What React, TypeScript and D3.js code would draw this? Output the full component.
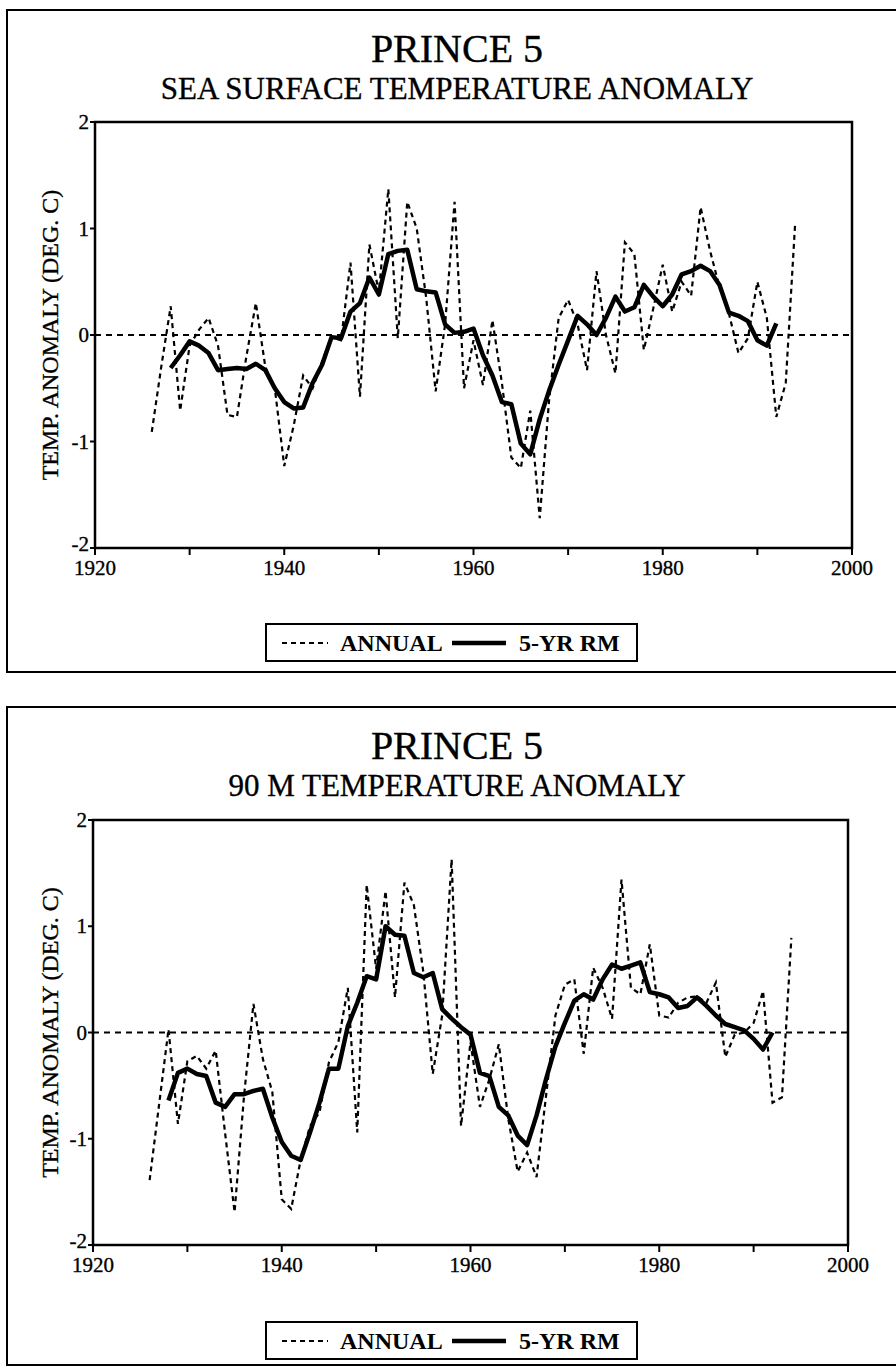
import React from "react";
import * as d3 from "d3";

// ---------- data ----------
const ANNUAL_YEARS: number[] = d3.range(1926, 1995);
const RM_YEARS: number[] = d3.range(1928, 1993);

const SST_ANNUAL = [
  -0.91, -0.3, 0.27, -0.71, -0.1, 0.05, 0.16, -0.1, -0.75, -0.77,
  -0.2, 0.3, -0.3, -0.5, -1.23, -0.85, -0.38, -0.5, -0.25, -0.02,
  -0.05, 0.68, -0.58, 0.85, 0.4, 1.37, -0.03, 1.25, 1.0, 0.35,
  -0.53, 0.1, 1.25, -0.5, -0.05, -0.47, 0.14, -0.45, -1.15, -1.25,
  -0.71, -1.72, -0.6, 0.16, 0.33, 0.1, -0.33, 0.6, 0.0, -0.36,
  0.87, 0.76, -0.14, 0.25, 0.66, 0.22, 0.5, 0.37, 1.2, 0.79,
  0.45, 0.2, -0.17, -0.03, 0.5, 0.16, -0.77, -0.45, 1.06,
];
const SST_RM = [
  -0.31, -0.19, -0.06, -0.1, -0.17, -0.33, -0.32, -0.31, -0.32, -0.27,
  -0.33, -0.5, -0.63, -0.69, -0.68, -0.45, -0.28, -0.02, -0.03, 0.22,
  0.3, 0.54, 0.38, 0.76, 0.79, 0.8, 0.43, 0.41, 0.4, 0.1,
  0.02, 0.03, 0.06, -0.19, -0.38, -0.63, -0.65, -1.02, -1.12, -0.79,
  -0.52, -0.28, -0.05, 0.18, 0.1, 0.0, 0.16, 0.36, 0.22, 0.26,
  0.47, 0.36, 0.27, 0.38, 0.57, 0.6, 0.65, 0.6, 0.47, 0.21,
  0.18, 0.13, -0.05, -0.1, 0.11,
];
const T90_ANNUAL = [
  -1.39, -0.68, 0.03, -0.86, -0.27, -0.22, -0.34, -0.17, -0.95, -1.69,
  -0.6, 0.27, -0.25, -0.56, -1.57, -1.66, -1.2, -0.88, -0.75, -0.28,
  -0.09, 0.42, -0.94, 1.39, 0.6, 1.33, 0.33, 1.41, 1.2, 0.57,
  -0.39, 0.16, 1.63, -0.88, -0.09, -0.7, -0.44, -0.11, -0.81, -1.31,
  -1.13, -1.36, -0.6, 0.16, 0.45, 0.5, -0.2, 0.61, 0.42, 0.13,
  1.44, 0.42, 0.36, 0.83, 0.16, 0.14, 0.28, 0.33, 0.34, 0.28,
  0.47, -0.23, -0.02, 0.0, 0.09, 0.39, -0.66, -0.61, 0.89,
];
const T90_RM = [
  -0.64, -0.38, -0.34, -0.39, -0.41, -0.66, -0.7, -0.58, -0.58, -0.55,
  -0.53, -0.8, -1.03, -1.16, -1.2, -0.94, -0.66, -0.34, -0.34, 0.06,
  0.28, 0.53, 0.5, 1.0, 0.92, 0.91, 0.56, 0.52, 0.56, 0.22,
  0.13, 0.05, -0.02, -0.38, -0.41, -0.7, -0.78, -0.97, -1.06, -0.78,
  -0.44, -0.13, 0.09, 0.3, 0.36, 0.31, 0.5, 0.64, 0.6, 0.63,
  0.66, 0.38, 0.36, 0.33, 0.23, 0.25, 0.33, 0.25, 0.16, 0.08,
  0.05, 0.02, -0.06, -0.16, 0.0,
];

const X_LABEL_TICKS = [1920, 1940, 1960, 1980, 2000];
const X_MINOR_TICKS = [1930, 1950, 1970, 1990];
const Y_TICKS = [-2, -1, 0, 1, 2];
const TITLE = "PRINCE 5";
const SUBTITLE_TOP = "SEA SURFACE TEMPERATURE ANOMALY";
const SUBTITLE_BOTTOM = "90 M TEMPERATURE ANOMALY";
const Y_TITLE = "TEMP. ANOMALY (DEG. C)";
const LEGEND_ANNUAL = "ANNUAL";
const LEGEND_RM = "5-YR RM";

const FONT = "'Liberation Serif', 'Times New Roman', serif";

type PanelProps = {
  frameTop: number;
  frameHeight: number;
  left: number;
  right: number;
  plotTop: number;
  plotBottom: number;
  subtitle: string;
  annual: number[];
  rm: number[];
  legendTop: number;
};

function Panel(p: PanelProps) {
  const x = d3.scaleLinear().domain([1920, 2000]).range([p.left, p.right]);
  const y = d3.scaleLinear().domain([-2, 2]).range([p.plotBottom, p.plotTop]);
  const line = d3
    .line<[number, number]>()
    .x((d) => x(d[0]))
    .y((d) => y(d[1]));
  const annualPath = line(ANNUAL_YEARS.map((yr, i) => [yr, p.annual[i]]));
  const rmPath = line(RM_YEARS.map((yr, i) => [yr, p.rm[i]]));
  const cx = 457;
  const lt = p.legendTop;
  const ts = { stroke: "#000", strokeWidth: 0.35 };
  return (
    <g fontFamily={FONT} fill="#000">
      <rect x={7} y={p.frameTop} width={900} height={p.frameHeight} fill="none" stroke="#000" strokeWidth={2} />
      <text x={cx} y={p.frameTop + 52} fontSize={40} textAnchor="middle" {...ts}>{TITLE}</text>
      <text x={cx} y={p.frameTop + 89} fontSize={31} textAnchor="middle" {...ts}>{p.subtitle}</text>

      {/* zero line */}
      <line x1={p.left} x2={p.right} y1={y(0)} y2={y(0)} stroke="#000" strokeWidth={2} strokeDasharray="6,5" />

      {/* data */}
      <path d={annualPath || ""} fill="none" stroke="#000" strokeWidth={2.2} strokeDasharray="5,4" />
      <path d={rmPath || ""} fill="none" stroke="#000" strokeWidth={4.5} strokeLinejoin="round" />

      {/* plot box */}
      <rect x={p.left} y={p.plotTop} width={p.right - p.left} height={p.plotBottom - p.plotTop} fill="none" stroke="#000" strokeWidth={2.5} />

      {/* y ticks */}
      {Y_TICKS.map((t) => (
        <g key={"y" + t}>
          <line x1={p.left - 5} x2={p.left} y1={y(t)} y2={y(t)} stroke="#000" strokeWidth={2} />
          <text x={p.left - 6} y={y(t) + (t === -2 ? 3 : 7)} fontSize={21} textAnchor="end" {...ts}>{t}</text>
        </g>
      ))}
      {/* x ticks */}
      {X_LABEL_TICKS.map((t) => (
        <g key={"x" + t}>
          <line x1={x(t)} x2={x(t)} y1={p.plotBottom} y2={p.plotBottom + 7} stroke="#000" strokeWidth={2} />
          <text x={x(t)} y={p.plotBottom + 27} fontSize={21} textAnchor="middle" {...ts}>{t}</text>
        </g>
      ))}
      {X_MINOR_TICKS.map((t) => (
        <line key={"m" + t} x1={x(t)} x2={x(t)} y1={p.plotBottom} y2={p.plotBottom + 7} stroke="#000" strokeWidth={2} />
      ))}

      {/* y title */}
      <text
        transform={`translate(58, ${(p.plotTop + p.plotBottom) / 2}) rotate(-90)`}
        fontSize={24}
        textAnchor="middle"
        {...ts}
      >
        {Y_TITLE}
      </text>

      {/* legend */}
      <rect x={266} y={lt} width={371} height={37} fill="#fff" stroke="#000" strokeWidth={2} />
      <line x1={282} x2={328} y1={lt + 19} y2={lt + 19} stroke="#000" strokeWidth={2.2} strokeDasharray="5,4" />
      <text x={340} y={lt + 27} fontSize={24} fontWeight="bold">{LEGEND_ANNUAL}</text>
      <line x1={452} x2={506} y1={lt + 19} y2={lt + 19} stroke="#000" strokeWidth={4.5} />
      <text x={519} y={lt + 27} fontSize={24} fontWeight="bold">{LEGEND_RM}</text>
    </g>
  );
}

export default function App() {
  return (
    <svg width={896} height={1368} style={{ position: "absolute", left: 0, top: 0, background: "#fff" }}>
      <rect x={0} y={0} width={896} height={1368} fill="#fff" />
      <Panel
        frameTop={10}
        frameHeight={662}
        left={95}
        right={852}
        plotTop={122}
        plotBottom={548}
        subtitle={SUBTITLE_TOP}
        annual={SST_ANNUAL}
        rm={SST_RM}
        legendTop={624}
      />
      <Panel
        frameTop={707}
        frameHeight={658}
        left={93}
        right={848}
        plotTop={820}
        plotBottom={1245}
        subtitle={SUBTITLE_BOTTOM}
        annual={T90_ANNUAL}
        rm={T90_RM}
        legendTop={1322}
      />
    </svg>
  );
}
